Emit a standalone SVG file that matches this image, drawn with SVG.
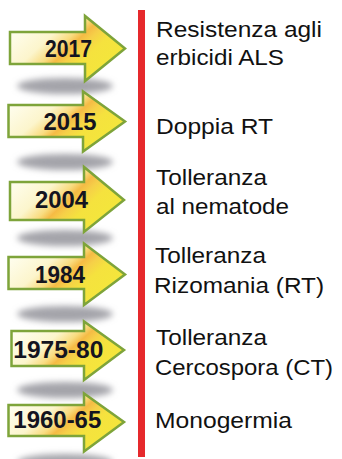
<svg xmlns="http://www.w3.org/2000/svg" width="342" height="459" viewBox="0 0 342 459">
<style>
.arrow{fill:url(#ag);stroke:#7ea43a;stroke-width:2.5;stroke-linejoin:miter}
.year{font-family:"Liberation Sans",Arial,sans-serif;font-weight:bold;font-size:23px;fill:#141420}
.desc{font-family:"Liberation Sans",Arial,sans-serif;font-size:22px;fill:#111}
.shadow{fill:#a4a4aa;filter:url(#blur)}
</style>
<defs>
<linearGradient id="ag" x1="0" y1="0.15" x2="1" y2="0.75">
<stop offset="0" stop-color="#fffff4"/>
<stop offset="0.33" stop-color="#fcf5cc"/>
<stop offset="0.46" stop-color="#f9dc80"/>
<stop offset="0.53" stop-color="#f5bb45"/>
<stop offset="0.6" stop-color="#f6d048"/>
<stop offset="0.7" stop-color="#f5e23e"/>
<stop offset="1" stop-color="#f3e83a"/>
</linearGradient>
<filter id="blur" x="-20%" y="-60%" width="140%" height="220%">
<feGaussianBlur stdDeviation="3"/>
</filter>
</defs>
<rect width="342" height="459" fill="#ffffff"/>
<g id="shadows">
<ellipse class="shadow" cx="65" cy="86" rx="48" ry="8"/>
<ellipse class="shadow" cx="65" cy="162" rx="48" ry="8"/>
<ellipse class="shadow" cx="65" cy="238" rx="48" ry="8"/>
<ellipse class="shadow" cx="65" cy="314" rx="48" ry="8"/>
<ellipse class="shadow" cx="65" cy="390" rx="48" ry="8"/>
<ellipse class="shadow" cx="65" cy="462" rx="48" ry="8"/>
</g>
<g id="connectors">
<rect x="138" y="10" width="7" height="447" fill="#e6292c"/>
</g>
<g id="node-2017">
<path class="arrow" d="M10,32 H85 V16 L125,48.5 L85,81 V64 H10 Z"/>
<text class="year" x="45" y="56.7" textLength="47" lengthAdjust="spacingAndGlyphs">2017</text>
<text class="desc" x="156" y="36.7" textLength="166" lengthAdjust="spacingAndGlyphs">Resistenza agli</text>
<text class="desc" x="156" y="65" textLength="128" lengthAdjust="spacingAndGlyphs">erbicidi ALS</text>
</g>
<g id="node-2015">
<path class="arrow" d="M8.5,105 H83 V91.5 L125,121.5 L83,151.5 V137 H8.5 Z"/>
<text class="year" x="43.5" y="130" textLength="53" lengthAdjust="spacingAndGlyphs">2015</text>
<text class="desc" x="156" y="134" textLength="117" lengthAdjust="spacingAndGlyphs">Doppia RT</text>
</g>
<g id="node-2004">
<path class="arrow" d="M10,182 H84 V167 L124,200 L84,232 V220 H10 Z"/>
<text class="year" x="35" y="208.3" textLength="53" lengthAdjust="spacingAndGlyphs">2004</text>
<text class="desc" x="156" y="185" textLength="111" lengthAdjust="spacingAndGlyphs">Tolleranza</text>
<text class="desc" x="156" y="214" textLength="133" lengthAdjust="spacingAndGlyphs">al nematode</text>
</g>
<g id="node-1984">
<path class="arrow" d="M8.5,257 H84 V243.5 L125,274.5 L84,305 V289 H8.5 Z"/>
<text class="year" x="35" y="283.3" textLength="50" lengthAdjust="spacingAndGlyphs">1984</text>
<text class="desc" x="155" y="263.3" textLength="111" lengthAdjust="spacingAndGlyphs">Tolleranza</text>
<text class="desc" x="154" y="293.3" textLength="170" lengthAdjust="spacingAndGlyphs">Rizomania (RT)</text>
</g>
<g id="node-1975-80">
<path class="arrow" d="M11.5,331 H84 V321.5 L124,350 L84,380 V366 H11.5 Z"/>
<text class="year" x="13.3" y="358.3" textLength="90" lengthAdjust="spacingAndGlyphs">1975-80</text>
<text class="desc" x="156" y="345" textLength="111" lengthAdjust="spacingAndGlyphs">Tolleranza</text>
<text class="desc" x="155" y="375" textLength="178" lengthAdjust="spacingAndGlyphs">Cercospora (CT)</text>
</g>
<g id="node-1960-65">
<path class="arrow" d="M8.5,405 H84 V393.5 L124,422 L84,451.5 V436 H8.5 Z"/>
<text class="year" x="13.3" y="428.3" textLength="88" lengthAdjust="spacingAndGlyphs">1960-65</text>
<text class="desc" x="155" y="428.3" textLength="137" lengthAdjust="spacingAndGlyphs">Monogermia</text>
</g>
</svg>
